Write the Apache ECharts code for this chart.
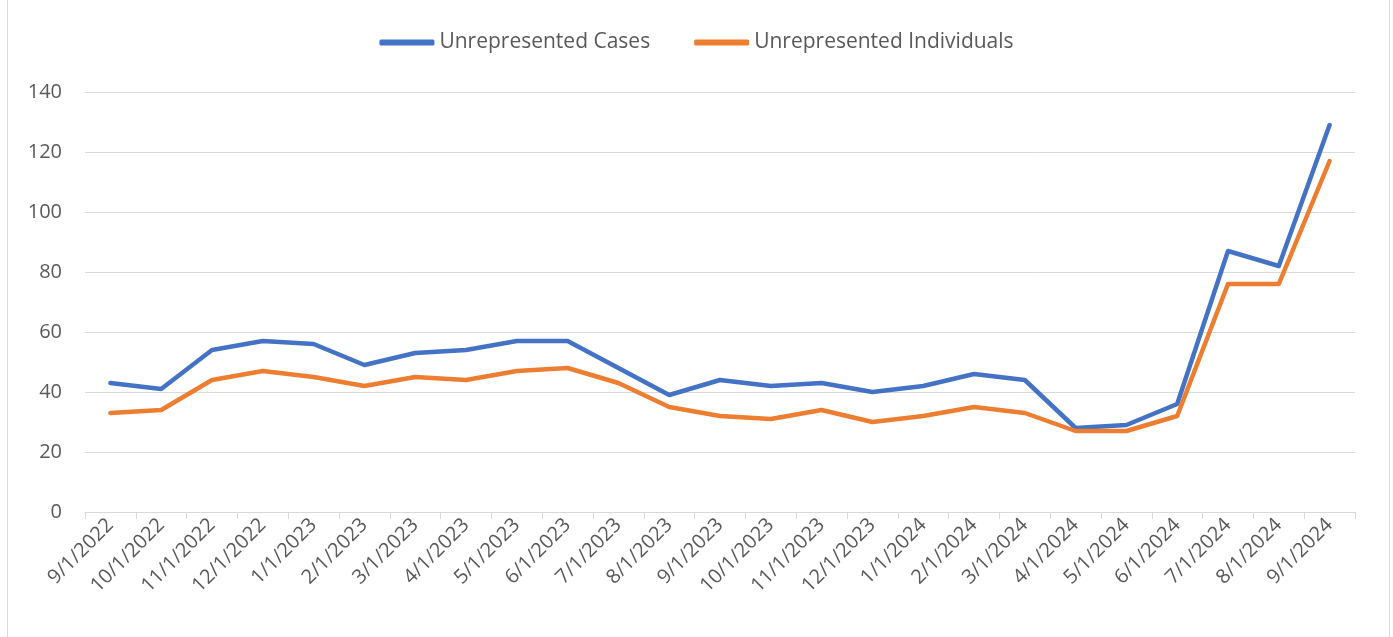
<!DOCTYPE html>
<html lang="en">
<head>
    <meta charset="UTF-8">
    <title>Unrepresented Cases</title>
    <script src="https://cdn.jsdelivr.net/npm/echarts@6/dist/echarts.min.js"></script>
    <style>
        html, body { margin: 0; padding: 0; background: #fff; }
        #frame { position: absolute; left: 7px; top: 0; width: 1381px; height: 637px;
                 border-left: 1px solid #d9d9d9; border-right: 1px solid #d9d9d9; }
        #chart { position: absolute; left: 0; top: 0; width: 1393px; height: 637px; }
    </style>
</head>
<body>
<div id="frame"></div>
<div id="chart"></div>
<script>
    // months on the x axis
    var months = ['9/1/2022', '10/1/2022', '11/1/2022', '12/1/2022', '1/1/2023', '2/1/2023',
        '3/1/2023', '4/1/2023', '5/1/2023', '6/1/2023', '7/1/2023', '8/1/2023', '9/1/2023',
        '10/1/2023', '11/1/2023', '12/1/2023', '1/1/2024', '2/1/2024', '3/1/2024', '4/1/2024',
        '5/1/2024', '6/1/2024', '7/1/2024', '8/1/2024', '9/1/2024'];
    var cases = [43, 41, 54, 57, 56, 49, 53, 54, 57, 57, 48, 39, 44, 42, 43, 40, 42, 46, 44, 28, 29, 36, 87, 82, 129];
    var individuals = [33, 34, 44, 47, 45, 42, 45, 44, 47, 48, 43, 35, 32, 31, 34, 30, 32, 35, 33, 27, 27, 32, 76, 76, 117];

    var font = 'Open Sans';
    var chart = echarts.init(document.getElementById('chart'));
    chart.setOption({
        animation: false,
        legend: {
            top: 27,
            left: 'center',
            itemWidth: 55,
            itemHeight: 6,
            itemGap: 44,
            icon: 'roundRect',
            textStyle: { fontFamily: font, fontSize: 21, color: '#595959' },
            data: ['Unrepresented Cases', 'Unrepresented Individuals']
        },
        grid: { left: 85, right: 38, top: 92, bottom: 125 },
        xAxis: {
            type: 'category',
            data: months,
            boundaryGap: true,
            axisLine: { lineStyle: { color: '#d9d9d9', width: 1 } },
            axisTick: { show: true, alignWithLabel: false, length: 7, lineStyle: { color: '#d9d9d9' } },
            axisLabel: { interval: 0, rotate: 45, fontFamily: font, fontSize: 20, color: '#595959', margin: 10 }
        },
        yAxis: {
            type: 'value',
            min: 0,
            max: 140,
            interval: 20,
            axisLine: { show: false },
            axisTick: { show: false },
            axisLabel: { fontFamily: font, fontSize: 20, color: '#595959', margin: 23 },
            splitLine: { lineStyle: { color: '#d9d9d9', width: 1 } }
        },
        series: [
            {
                name: 'Unrepresented Cases',
                type: 'line',
                data: cases,
                symbol: 'none',
                itemStyle: { color: '#4472c4' },
                lineStyle: { width: 4.5, color: '#4472c4', cap: 'round', join: 'round' }
            },
            {
                name: 'Unrepresented Individuals',
                type: 'line',
                data: individuals,
                symbol: 'none',
                itemStyle: { color: '#ed7d31' },
                lineStyle: { width: 4.5, color: '#ed7d31', cap: 'round', join: 'round' }
            }
        ]
    });
</script>
</body>
</html>
